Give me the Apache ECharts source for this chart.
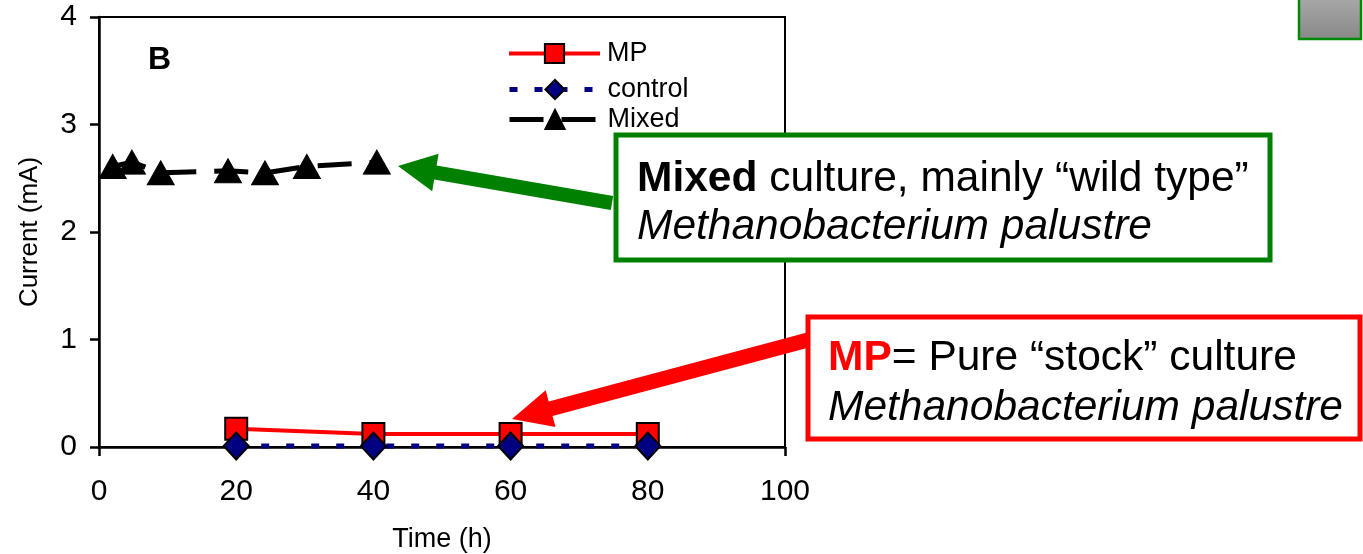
<!DOCTYPE html>
<html>
<head>
<meta charset="utf-8">
<script src="https://cdn.jsdelivr.net/npm/echarts@6/dist/echarts.min.js"></script>
<style>html,body{margin:0;padding:0;background:#fff;}#c{width:1363px;height:554px;}</style>
</head>
<body>
<div id="c"></div>
<script>
// Data
const mixedTime = [2, 4.8, 9, 18.8, 24.2, 30.3, 40.5];
const mixedCurrent = [2.61, 2.65, 2.55, 2.57, 2.55, 2.61, 2.65];
const mpTime = [20, 40, 60, 80];
const mpCurrent = [0.17, 0.12, 0.12, 0.12];
const controlTime = [20, 40, 60, 80];
const controlCurrent = [0.01, 0.01, 0.01, 0.01];
const xTicks = [0, 20, 40, 60, 80, 100];
const yTicks = [0, 1, 2, 3, 4];
const seriesNames = ['MP', 'control', 'Mixed'];

const pair = (xs, ys) => xs.map((x, i) => [x, ys[i]]);
const F = 'Liberation Sans, Arial, sans-serif';

const chart = echarts.init(document.getElementById('c'), null, {renderer: 'canvas'});

function legendAt(name, top, lw) {
  return {
    data: [name], left: 507, top: top, orient: 'vertical', padding: 0,
    itemWidth: 91, itemHeight: 24, itemGap: 0,
    lineStyle: {width: lw},
    textStyle: {fontFamily: F, fontSize: 27, color: '#000', padding: [0, 0, 0, 2]}
  };
}

chart.setOption({
  animation: false,
  backgroundColor: '#fff',
  grid: {left: 99, right: 578, top: 17, bottom: 107, show: true, borderColor: '#000', borderWidth: 2,
    backgroundColor: 'transparent', outerBoundsMode: 'none', containLabel: false},
  legend: [legendAt(seriesNames[0], 40, 4), legendAt(seriesNames[1], 76, 5), legendAt(seriesNames[2], 106, 5)],
  xAxis: {
    type: 'value', min: xTicks[0], max: xTicks[xTicks.length - 1], interval: 20,
    name: 'Time (h)', nameLocation: 'middle', nameGap: 79,
    nameTextStyle: {fontFamily: F, fontSize: 27, color: '#000'},
    axisLine: {lineStyle: {color: '#000', width: 2.5}},
    axisTick: {show: true, inside: false, length: 9, lineStyle: {color: '#000', width: 2.5}},
    axisLabel: {fontFamily: F, fontSize: 30, color: '#000', margin: 30},
    splitLine: {show: false}
  },
  yAxis: {
    type: 'value', min: yTicks[0], max: yTicks[yTicks.length - 1], interval: 1,
    name: 'Current (mA)', nameLocation: 'middle', nameGap: 56, nameRotate: 90,
    nameTextStyle: {fontFamily: F, fontSize: 26, color: '#000'},
    axisLine: {lineStyle: {color: '#000', width: 2.5}},
    axisTick: {show: true, inside: false, length: 9, lineStyle: {color: '#000', width: 2.5}},
    axisLabel: {fontFamily: F, fontSize: 30, color: '#000', margin: 22},
    splitLine: {show: false}
  },
  series: [
    {
      name: seriesNames[0], type: 'line', data: pair(mpTime, mpCurrent),
      symbol: 'rect', symbolSize: 22, z: 3,
      itemStyle: {color: '#ff0000', borderColor: '#000', borderWidth: 2},
      lineStyle: {color: '#ff0000', width: 4}
    },
    {
      name: seriesNames[1], type: 'line', data: pair(controlTime, controlCurrent),
      symbol: 'diamond', symbolSize: [25, 27], z: 4,
      itemStyle: {color: '#000080', borderColor: '#000', borderWidth: 2},
      lineStyle: {color: '#000080', width: 5, type: [8, 17]}
    },
    {
      name: seriesNames[2], type: 'line', data: pair(mixedTime, mixedCurrent),
      symbol: 'triangle', symbolSize: [27, 24], z: 3,
      itemStyle: {color: '#000', borderColor: '#000', borderWidth: 1},
      lineStyle: {color: '#000', width: 5, type: [34, 18]}
    }
  ],
  graphic: [
    {type: 'text', left: 148, top: 44, style: {text: 'B', font: 'bold 32px ' + F, fill: '#000'}},
    // top-right grey button
    {type: 'rect', shape: {x: 1299, y: -4, width: 62, height: 43},
      style: {fill: new echarts.graphic.LinearGradient(0, 0, 0, 1, [{offset: 0, color: '#aaaaaa'}, {offset: 1, color: '#888888'}]), stroke: '#008a00', lineWidth: 2.5}},
    // green annotation
    {type: 'polygon', z: 10, shape: {points: [[398, 166], [438.6, 153.8], [436.6, 165.6], [613.2, 196.1], [610.8, 209.9], [434.2, 179.4], [432.2, 191.2]]}, style: {fill: '#008000'}},
    {type: 'rect', z: 10, shape: {x: 616, y: 135, width: 654, height: 125}, style: {fill: '#fff', stroke: '#008000', lineWidth: 5}},
    {type: 'text', z: 11, left: 637, top: 155, style: {
      text: '{b|Mixed} culture, mainly “wild type”\n{i|Methanobacterium palustre}',
      font: '42.5px ' + F, fill: '#000', lineHeight: 48,
      rich: {b: {font: 'bold 42.5px ' + F, fill: '#000', lineHeight: 48}, i: {font: 'italic 42.5px ' + F, fill: '#000', lineHeight: 48}}
    }},
    // red annotation
    {type: 'polygon', z: 10, shape: {points: [[512, 419], [545.7, 390.3], [548.7, 401.5], [806.1, 332.8], [809.9, 347.2], [552.5, 415.9], [555.5, 427.1]]}, style: {fill: '#ff0000'}},
    {type: 'rect', z: 10, shape: {x: 808, y: 317, width: 552, height: 122}, style: {fill: '#fff', stroke: '#ff0000', lineWidth: 5}},
    {type: 'text', z: 11, left: 828, top: 333, style: {
      text: '{r|MP}= Pure “stock” culture\n{i|Methanobacterium palustre}',
      font: '42.5px ' + F, fill: '#000', lineHeight: 50,
      rich: {r: {font: 'bold 42.5px ' + F, fill: '#ff0000', lineHeight: 50}, i: {font: 'italic 42.5px ' + F, fill: '#000', lineHeight: 50}}
    }}
  ]
});
</script>
</body>
</html>
